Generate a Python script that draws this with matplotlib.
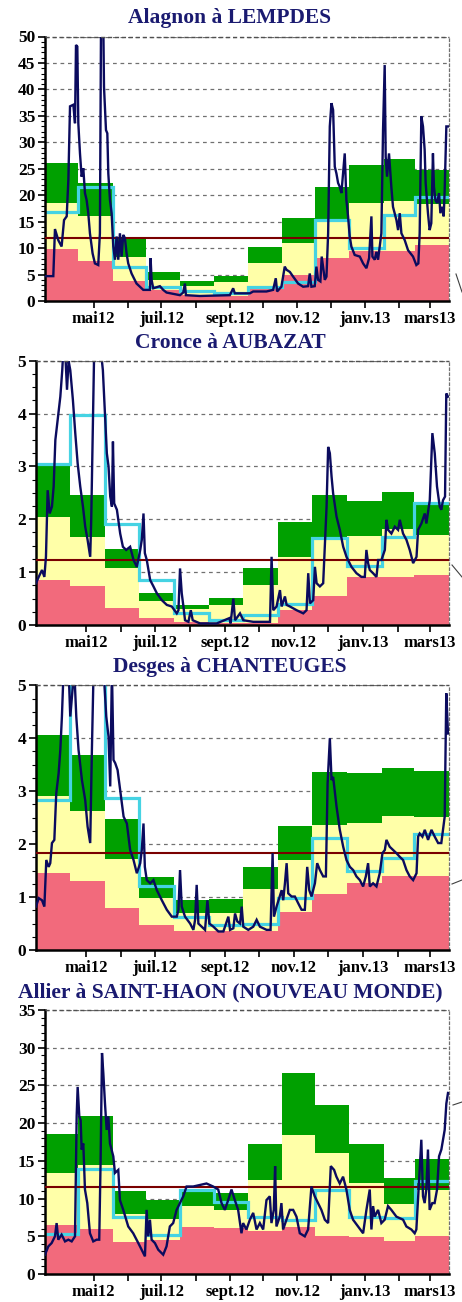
import matplotlib
matplotlib.use("Agg")
import matplotlib.pyplot as plt
import matplotlib.dates as mdates
from matplotlib.ticker import MultipleLocator, AutoMinorLocator
from matplotlib.lines import Line2D
import numpy as np
import pandas as pd

# ---------------- data ----------------
month_starts = pd.date_range("2012-04-01", "2013-04-01", freq="MS")
tick_labels = ["mai12", "", "juil.12", "", "sept.12", "", "nov.12", "", "janv.13", "", "mars13"]

titles = ["Alagnon à LEMPDES", "Cronce à AUBAZAT", "Desges à CHANTEUGES",
          "Allier à SAINT-HAON (NOUVEAU MONDE)"]

# Alagnon à LEMPDES
alag_low = [9.8, 7.6, 3.85, 2.1, 1.1, 0.95, 2.8, 4.9, 8.2, 9.5, 9.5, 10.6]
alag_mid = [18.5, 16.0, 8.4, 4.0, 2.8, 3.5, 7.1, 10.9, 15.0, 18.5, 18.9, 18.3]
alag_high = [26.0, 22.4, 12.0, 5.4, 3.7, 4.7, 10.3, 15.6, 21.6, 25.7, 26.9, 24.7]
alag_mean = [16.9, 21.5, 6.5, 2.7, 1.8, 1.5, 2.7, 3.6, 15.3, 10.0, 16.3, 19.7]
alag_module = 12.0
alag_day = [0, 7.5, 9.0, 12.0, 15.0, 17.2, 19.6, 21.1, 22.6, 25.6, 27.1, 28.0, 29.2, 30.1, 31.6,
            33.1, 34.6, 36.1, 37.6, 39.1, 40.6, 43.0, 45.1, 48.1, 49.6, 50.6, 52.7, 53.3, 55.1,
            56.3, 57.2, 58.7, 60.2, 61.7, 63.2, 64.7, 66.2, 67.7, 69.2, 70.7, 72.2, 73.7, 75.2,
            78.2, 82.7, 88.8, 94.8, 95.4, 96.3, 97.8, 103.8, 106.8, 109.8, 121.9, 124.9, 126.4,
            127.3, 139.9, 167.0, 170.0, 171.5, 185.1, 188.1, 200.1, 206.1, 208.5, 209.7, 213.6,
            216.6, 218.2, 221.2, 224.2, 228.7, 233.2, 237.7, 239.2, 240.7, 243.7, 245.2, 246.7,
            248.8, 250.0, 252.8, 254.3, 255.8, 257.3, 258.8, 260.3, 261.8, 263.3, 264.8, 266.3,
            267.8, 269.3, 270.8, 272.3, 273.8, 275.3, 276.8, 279.8, 284.4, 287.4, 290.4, 292.8,
            294.9, 295.8, 297.9, 299.4, 300.9, 302.4, 303.9, 305.4, 306.9, 307.8, 309.0, 310.8,
            312.9, 314.4, 317.5, 319.0, 320.5, 322.0, 325.0, 328.0, 332.5, 335.5, 337.3, 338.5,
            340.0, 341.5, 343.0, 343.9, 346.0, 347.5, 349.0, 350.5, 351.4, 352.7, 354.2, 356.0,
            357.2, 359.0, 360.2, 361.1, 362.6, 364.1]
alag_flow = [4.7, 4.7, 13.6, 11.5, 10.3, 15.3, 16.0, 22.9, 36.8, 37.1, 33.6, 48.4, 48.1, 33.6, 27.9,
             23.5, 25.1, 20.4, 19.1, 16.6, 12.8, 9.0, 7.1, 6.8, 12.8, 52.0, 52.0, 40.5, 32.3,
             31.7, 24.1, 19.1, 16.6, 10.3, 7.8, 12.2, 7.8, 12.8, 8.4, 12.5, 11.9, 9.0, 7.1,
             5.2, 3.3, 2.1, 2.1, 8.1, 4.0, 2.4, 2.8, 2.1, 1.6, 1.1, 1.6, 3.3,
             1.1, 0.95, 1.1, 2.4, 1.45, 1.45, 1.8, 1.8, 2.1, 4.3, 1.8, 2.7,
             6.5, 5.9, 5.5, 4.6, 3.3, 2.7, 2.8, 5.2, 2.7, 2.8, 6.5, 4.0,
             3.7, 8.4, 4.0, 4.6, 12.8, 33.0, 37.4, 36.1, 25.4, 24.1, 22.3, 21.6,
             20.4, 24.1, 27.9, 19.1, 16.0, 12.2, 10.3, 8.7, 8.4, 7.1, 6.2, 8.1,
             16.0, 8.4, 7.8, 9.3, 7.8, 10.3, 12.8, 32.3, 44.6, 27.3, 23.5, 27.9,
             21.6, 17.8, 15.3, 13.4, 16.6, 12.8, 11.5, 9.6, 8.4, 6.8, 7.1, 12.8,
             34.9, 33.0, 28.6, 22.3, 16.6, 13.4, 14.7, 27.9, 21.6, 19.1, 18.5, 20.4,
             16.6, 17.8, 16.0, 21.0, 33.0, 33.0]

# Cronce à AUBAZAT
cron_low = [0.85, 0.73, 0.33, 0.14, 0.06, 0.03, 0.03, 0.28, 0.55, 0.91, 0.91, 0.95]
cron_mid = [2.05, 1.66, 1.07, 0.45, 0.30, 0.38, 0.76, 1.29, 1.67, 1.68, 1.82, 1.70]
cron_high = [3.0, 2.46, 1.43, 0.61, 0.38, 0.52, 1.07, 1.94, 2.46, 2.35, 2.52, 2.31]
cron_mean = [3.05, 3.97, 1.91, 0.86, 0.22, 0.10, 0.19, 0.40, 1.64, 1.12, 1.67, 2.30]
cron_module = 1.23
cron_day = [0, 2.4, 5.3, 7.4, 8.8, 10.3, 12.1, 14.1, 15.6, 17.1, 19.1, 21.5, 23.2, 24.4, 26.2,
            27.4, 28.8, 30.3, 32.6, 34.7, 36.8, 39.1, 41.5, 43.5, 45.6, 47.9, 48.8, 50.3, 51.5,
            56.8, 59.1, 61.2, 62.6, 64.1, 65.6, 67.1, 68.0, 69.1, 71.5, 74.4, 76.8, 79.7, 83.2,
            86.2, 89.1, 92.1, 93.5, 95.0, 96.2, 97.9, 100.9, 103.8, 106.8, 111.2, 115.6, 120.0,
            124.4, 125.9, 127.3, 128.8, 130.3, 131.7, 134.7, 136.8, 138.5, 145.0, 159.7, 170.9,
            172.0, 174.4, 175.9, 180.3, 183.2, 192.0, 203.8, 206.8, 208.2, 209.7, 212.6, 215.6,
            217.1, 220.0, 221.5, 224.4, 230.3, 236.2, 239.1, 240.6, 242.1, 245.0, 246.5, 248.0,
            250.9, 253.8, 256.8, 258.2, 259.7, 261.2, 262.6, 265.6, 268.5, 271.5, 274.4, 278.8,
            283.2, 287.6, 290.6, 292.0, 293.5, 295.0, 297.9, 300.9, 302.4, 305.3, 308.3, 309.7,
            311.2, 314.1, 317.1, 320.0, 321.5, 324.4, 327.4, 330.3, 333.3, 336.3, 337.7, 340.6,
            343.6, 345.0, 348.0, 350.3, 352.4, 354.4, 356.8, 358.2, 359.7, 361.5, 362.6, 364.1]
cron_flow = [0.79, 0.91, 1.04, 0.91, 1.29, 2.55, 2.11, 2.24, 2.62, 3.50, 3.88, 4.32, 4.82, 5.3, 5.0,
             4.45, 5.0, 4.82, 4.26, 3.63, 3.06, 2.62, 2.24, 1.86, 1.61, 1.29, 1.99, 3.88, 5.3,
             5.3, 4.82, 3.88, 3.25, 3.0, 2.43, 2.24, 3.47, 2.30, 2.18, 1.73, 1.48, 1.42, 1.48,
             1.23, 1.10, 1.42, 1.61, 2.11, 1.36, 1.23, 0.85, 0.73, 0.60, 0.47, 0.38, 0.35,
             0.22, 0.28, 1.07, 0.60, 0.35, 0.09, 0.06, 0.28, 0.09, 0.03, 0.03, 0.13,
             0.03, 0.50, 0.09, 0.22, 0.09, 0.06, 0.06, 0.06, 1.29, 0.28, 0.35, 0.66,
             0.35, 0.54, 0.38, 0.35, 0.28, 0.22, 0.28, 0.98, 0.41, 0.47, 1.10, 0.79,
             0.73, 0.79, 2.24, 3.37, 3.25, 2.81, 2.49, 2.05, 1.80, 1.48, 1.29, 1.10,
             0.98, 0.91, 0.91, 1.42, 1.17, 1.04, 0.98, 0.91, 1.23, 1.23, 1.42, 1.99,
             1.80, 1.73, 1.86, 1.80, 1.99, 1.73, 1.61, 1.42, 1.17, 1.29, 1.80, 1.92,
             2.11, 1.92, 2.36, 3.63, 3.25, 2.62, 2.24, 2.18, 2.36, 2.43, 4.38, 4.32]

# Desges à CHANTEUGES
desg_low = [1.45, 1.30, 0.79, 0.47, 0.36, 0.36, 0.36, 0.72, 1.05, 1.26, 1.40, 1.40]
desg_mid = [2.90, 2.63, 1.72, 0.98, 0.69, 0.69, 1.15, 1.70, 2.37, 2.40, 2.54, 2.52]
desg_high = [4.06, 3.68, 2.47, 1.37, 0.94, 0.96, 1.56, 2.35, 3.37, 3.35, 3.43, 3.39]
desg_mean = [2.83, 5.40, 2.88, 1.21, 0.63, 0.47, 0.49, 0.98, 2.11, 1.49, 1.73, 2.20]
desg_module = 1.84
desg_day = [0, 2.4, 5.3, 7.4, 9.1, 11.2, 12.6, 14.1, 16.2, 17.9, 20.0, 21.5, 22.9, 24.4, 28.8,
            30.3, 32.6, 33.8, 35.6, 37.6, 40.6, 43.5, 45.6, 47.9, 49.4, 50.9, 59.7, 62.1, 64.1,
            65.6, 67.1, 68.5, 70.0, 72.1, 74.4, 77.4, 80.3, 83.2, 86.2, 89.1, 92.1, 93.5, 95.0,
            96.2, 97.9, 100.9, 103.8, 106.8, 111.2, 115.6, 120.0, 124.4, 125.9, 127.3, 128.8,
            131.7, 136.2, 139.1, 140.6, 142.0, 143.5, 146.4, 149.4, 151.5, 153.2, 156.8, 161.2,
            165.6, 170.0, 171.5, 174.4, 175.9, 177.9, 180.3, 181.8, 183.2, 187.6, 192.0, 195.0,
            197.9, 203.8, 207.3, 209.1, 210.3, 212.6, 217.1, 218.5, 220.0, 221.5, 222.9, 225.9,
            228.8, 231.8, 234.7, 237.6, 239.7, 241.5, 243.5, 246.5, 248.5, 250.9, 253.8, 256.2,
            257.7, 259.7, 261.2, 262.6, 265.6, 268.5, 271.5, 274.4, 277.4, 280.3, 283.2, 286.2,
            289.1, 291.5, 293.5, 295.0, 297.9, 300.9, 303.8, 306.2, 308.3, 309.7, 312.6, 315.6,
            318.5, 321.5, 324.4, 327.4, 330.3, 333.3, 336.3, 337.7, 339.1, 341.5, 343.6, 346.5,
            349.5, 352.4, 355.4, 358.2, 359.7, 361.2, 362.6, 364.1]
desg_flow = [0.82, 0.98, 0.94, 0.82, 1.70, 1.57, 1.64, 2.02, 2.08, 2.96, 3.34, 3.78, 4.41, 5.3, 5.3,
             4.41, 5.0, 5.3, 4.41, 3.78, 3.21, 2.83, 2.33, 2.02, 3.78, 5.3, 5.3, 4.41, 4.03,
             3.09, 5.3, 3.59, 3.53, 3.40, 3.02, 2.52, 2.39, 1.89, 1.70, 1.45, 1.64, 1.89, 2.39,
             1.57, 1.32, 1.26, 1.32, 1.13, 0.94, 0.76, 0.63, 0.63, 0.76, 1.51, 0.82,
             0.63, 0.50, 0.38, 0.57, 1.23, 0.50, 0.44, 0.38, 0.94, 0.50, 0.44, 0.35,
             0.35, 0.63, 0.38, 0.41, 0.69, 0.54, 0.50, 0.82, 0.44, 0.38, 0.44, 0.57,
             0.44, 0.38, 0.38, 1.83, 0.63, 0.82, 1.13, 0.94, 1.26, 1.64, 1.07, 1.01,
             1.01, 0.88, 0.76, 0.76, 1.57, 1.13, 1.01, 1.26, 1.64, 1.51, 1.39, 1.39,
             3.15, 4.0, 3.21, 3.27, 2.71, 2.27, 1.95, 1.70, 1.57, 1.51, 1.39, 1.32,
             1.20, 1.39, 1.64, 1.20, 1.26, 1.20, 1.45, 1.83, 1.89, 2.08, 1.95, 1.89,
             1.83, 1.76, 1.70, 1.51, 1.39, 1.32, 1.45, 2.14, 2.20, 2.14, 2.27, 2.08,
             2.27, 2.14, 2.02, 2.02, 2.27, 2.52, 4.85, 4.09]

# Allier à SAINT-HAON
alli_low = [6.5, 5.9, 4.2, 4.5, 6.2, 6.1, 5.7, 6.2, 5.0, 4.9, 4.4, 5.0]
alli_mid = [13.4, 14.5, 7.9, 7.3, 9.0, 8.5, 12.4, 18.4, 16.0, 12.0, 9.3, 11.1]
alli_high = [18.6, 20.9, 11.0, 9.8, 10.9, 10.7, 17.3, 26.7, 22.4, 17.3, 12.7, 15.3]
alli_mean = [5.3, 13.9, 7.6, 5.2, 11.2, 9.6, 7.6, 7.2, 11.2, 7.6, 7.4, 12.3]
alli_module = 11.6
alli_day = [0, 3.0, 6.0, 9.0, 10.5, 12.0, 15.0, 18.1, 21.1, 24.1, 27.1, 28.6, 29.5, 31.0, 32.2,
            33.1, 34.6, 36.1, 38.2, 40.6, 43.6, 46.6, 49.0, 50.2, 51.5, 52.7, 54.2, 55.7, 57.2,
            58.7, 61.7, 63.2, 66.2, 67.7, 70.7, 75.2, 79.7, 84.3, 88.8, 90.3, 91.8, 93.3, 94.8,
            96.3, 99.3, 102.3, 106.8, 109.8, 112.8, 115.8, 118.9, 121.9, 124.9, 127.9, 133.9,
            139.9, 145.9, 151.9, 156.5, 159.5, 162.5, 165.5, 168.5, 171.5, 174.5, 177.5, 179.0,
            182.0, 185.1, 188.1, 191.1, 194.1, 197.1, 200.1, 203.1, 204.6, 206.7, 207.9, 209.1,
            212.1, 213.6, 215.1, 218.2, 221.2, 224.2, 227.2, 230.2, 234.7, 237.7, 240.7, 243.7,
            246.7, 249.7, 252.8, 255.8, 258.2, 261.2, 263.3, 266.3, 269.3, 272.3, 275.3, 278.3,
            282.8, 287.4, 290.4, 293.4, 294.9, 296.4, 297.9, 300.9, 303.9, 306.9, 309.9, 312.9,
            317.5, 323.5, 326.5, 331.0, 334.0, 335.5, 338.5, 340.0, 341.5, 343.0, 344.5, 346.0,
            347.5, 349.9, 352.0, 354.2, 356.0, 358.1, 361.1, 362.6, 364.1]
alli_flow = [2.56, 3.66, 4.10, 4.99, 6.75, 4.55, 5.21, 4.32, 4.55, 4.32, 4.99, 20.9, 24.8, 20.9, 20.4,
             16.5, 17.3, 11.2, 9.4, 5.4, 4.32, 4.55, 4.55, 14.7, 29.3, 26.6, 22.6, 19.1, 20.9,
             17.3, 15.6, 13.4, 13.8, 9.8, 8.5, 6.3, 5.4, 4.10, 2.78, 2.34, 8.5, 4.99, 7.2,
             4.55, 4.10, 3.22, 2.56, 3.66, 6.3, 6.75, 8.5, 9.4, 10.3, 11.6, 11.6,
             11.8, 12.0, 11.6, 11.2, 9.4, 8.5, 9.8, 11.2, 9.8, 8.5, 5.4, 6.75,
             5.9, 7.2, 8.1, 5.9, 6.75, 5.9, 9.8, 10.3, 6.75, 8.5, 14.3, 6.3,
             7.6, 9.4, 5.9, 7.2, 8.5, 8.5, 7.6, 5.4, 4.99, 5.9, 11.6, 10.3,
             9.4, 8.5, 7.2, 6.75, 14.3, 13.8, 12.9, 12.0, 12.9, 11.2, 8.5, 7.2,
             6.3, 5.4, 8.5, 11.2, 5.9, 9.0, 7.6, 8.5, 6.75, 7.2, 9.0, 8.5,
             7.6, 7.2, 6.3, 5.9, 5.4, 5.9, 13.8, 17.8, 10.3, 9.4, 11.2, 16.5,
             8.5, 9.4, 9.4, 11.2, 15.6, 16.5, 19.1, 22.6, 24.0]

stations = [
    (alag_low, alag_mid, alag_high, alag_mean, alag_module, alag_day, alag_flow),
    (cron_low, cron_mid, cron_high, cron_mean, cron_module, cron_day, cron_flow),
    (desg_low, desg_mid, desg_high, desg_mean, desg_module, desg_day, desg_flow),
    (alli_low, alli_mid, alli_high, alli_mean, alli_module, alli_day, alli_flow),
]

# ---------------- style / layout ----------------
W, H = 462, 1302
fig = plt.figure(figsize=(W / 100, H / 100), dpi=100)
fig.patch.set_facecolor("white")

SERIF = ["Liberation Serif", "DejaVu Serif"]
C_RED = "#f26a7c"
C_YEL = "#ffffa8"
C_GRN = "#00a000"
C_CYAN = "#45d3e3"
C_FLOW = "#0b0b5e"
C_MOD = "#7a0000"
C_TITLE = "#1a1a70"

# (left, right, top, bottom) in pixels, title y, ymax, major step, minor subdivisions
layout = [
    (45, 449, 36.5, 301, 18, 50, 5, 5),
    (36, 449, 360.7, 625, 343, 5, 1, 4),
    (36, 449, 685.3, 950, 667, 5, 1, 4),
    (45, 449, 1010, 1274, 992, 35, 5, 5),
]

edges = mdates.date2num(month_starts)
widths = np.diff(edges)
start = edges[0]
tick_pos = mdates.date2num(pd.date_range("2012-05-01", "2013-03-01", freq="MS") + pd.Timedelta(days=14))

for (low, mid, high, mean, module, day, flow), (l, r, t, b, ty, ymax, step, nminor), title in zip(
        stations, layout, titles):
    ax = fig.add_axes([l / W, 1 - b / H, (r - l) / W, (b - t) / H])
    low = np.array(low); mid = np.array(mid); high = np.array(high)
    ax.bar(edges[:-1], low, width=widths, align="edge", color=C_RED, linewidth=0, zorder=1)
    ax.bar(edges[:-1], mid - low, bottom=low, width=widths, align="edge", color=C_YEL, linewidth=0, zorder=1)
    ax.bar(edges[:-1], high - mid, bottom=mid, width=widths, align="edge", color=C_GRN, linewidth=0, zorder=1)
    ax.stairs(mean, edges, color=C_CYAN, linewidth=2.3, zorder=2, baseline=None)
    ax.axhline(module, color=C_MOD, linewidth=1.5, zorder=3)
    ax.plot(start + np.array(day), flow, color=C_FLOW, linewidth=1.7, zorder=4, solid_joinstyle="miter")

    ax.set_xlim(edges[0], edges[-1])
    ax.set_ylim(0, ymax)
    ax.yaxis.set_major_locator(MultipleLocator(step))
    ax.yaxis.set_minor_locator(AutoMinorLocator(nminor))
    ax.set_xticks(tick_pos)
    ax.set_xticklabels(tick_labels)
    ax.set_axisbelow(True)
    ax.grid(axis="y", which="major", linestyle=(0, (3, 3)), color="#707070", linewidth=0.9)

    for sp in ("left", "bottom"):
        ax.spines[sp].set_linewidth(1.8)
        ax.spines[sp].set_color("black")
    ax.spines["top"].set_visible(False)
    ax.spines["right"].set_linestyle((0, (2, 2)))
    ax.spines["right"].set_color("#707070")
    ax.spines["right"].set_linewidth(0.9)
    ax.axhline(ymax, color="#505050", linewidth=1.0, linestyle=(0, (3, 2)), zorder=5, clip_on=False)

    ax.tick_params(axis="y", which="major", length=5, width=1.2, labelsize=12.5, pad=2)
    ax.tick_params(axis="x", which="major", length=5, width=1.2, labelsize=12, pad=2.5)
    ax.tick_params(axis="y", which="minor", length=3, width=0.8)
    for lab in ax.get_xticklabels() + ax.get_yticklabels():
        lab.set_fontfamily(SERIF)
        lab.set_fontweight("bold")

    fig.text(230 / W, 1 - ty / H, title, ha="center", va="center", fontsize=15.5,
             fontweight="bold", family=SERIF, color=C_TITLE)

# small cropped marks at the right edge of the original page
for (x0, y0, x1, y1) in [(456, 274, 462, 292), (452, 565, 462, 577), (452, 884, 462, 880), (453, 1105, 462, 1102)]:
    fig.add_artist(Line2D([x0 / W, x1 / W], [1 - y0 / H, 1 - y1 / H], color="#404040", linewidth=0.8))

fig.savefig("out.png", dpi=100, facecolor="white")
